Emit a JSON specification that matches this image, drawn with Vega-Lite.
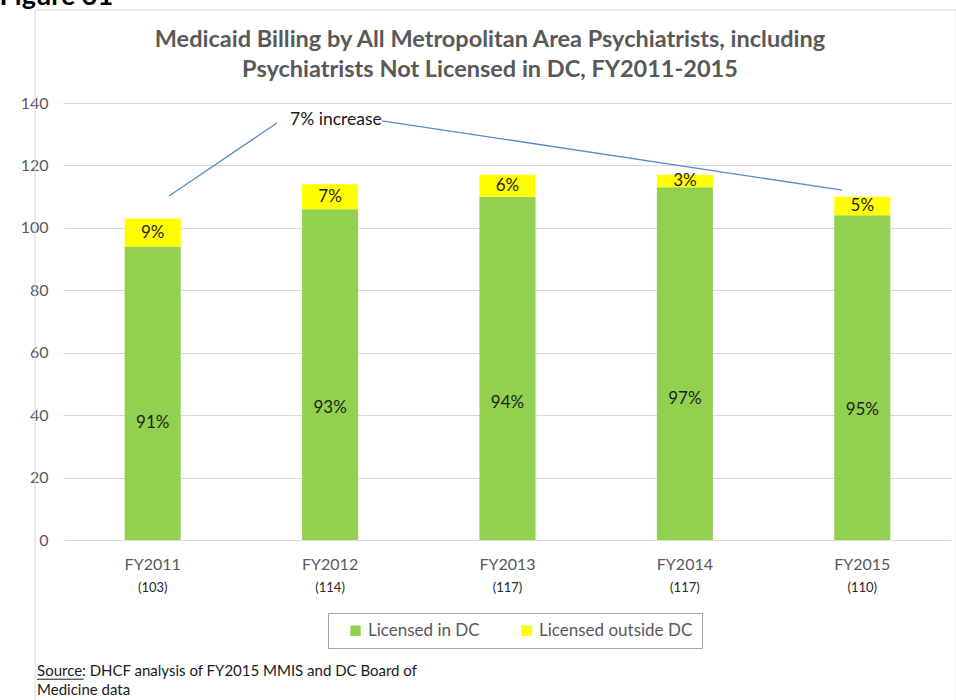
{
  "$schema": "https://vega.github.io/schema/vega-lite/v6.json",
  "width": 887,
  "height": 437,
  "autosize": "none",
  "padding": {"left": 64, "top": 103, "right": 5, "bottom": 160},
  "background": "white",
  "config": {"font": "Lato", "view": {"stroke": null}},
  "datasets": {
    "bars": [
      {"year": "FY2011", "category": "Licensed in DC", "ord": 1, "value": 94, "pct": "91%", "total": 103},
      {"year": "FY2011", "category": "Licensed outside DC", "ord": 2, "value": 9, "pct": "9%", "total": 103},
      {"year": "FY2012", "category": "Licensed in DC", "ord": 1, "value": 106, "pct": "93%", "total": 114},
      {"year": "FY2012", "category": "Licensed outside DC", "ord": 2, "value": 8, "pct": "7%", "total": 114},
      {"year": "FY2013", "category": "Licensed in DC", "ord": 1, "value": 110, "pct": "94%", "total": 117},
      {"year": "FY2013", "category": "Licensed outside DC", "ord": 2, "value": 7, "pct": "6%", "total": 117},
      {"year": "FY2014", "category": "Licensed in DC", "ord": 1, "value": 113, "pct": "97%", "total": 117},
      {"year": "FY2014", "category": "Licensed outside DC", "ord": 2, "value": 4, "pct": "3%", "total": 117},
      {"year": "FY2015", "category": "Licensed in DC", "ord": 1, "value": 104, "pct": "95%", "total": 110},
      {"year": "FY2015", "category": "Licensed outside DC", "ord": 2, "value": 6, "pct": "5%", "total": 110}
    ]
  },
  "resolve": {"scale": {"x": "independent"}},
  "layer": [
    {
      "data": {"name": "bars"},
      "mark": {"type": "bar"},
      "encoding": {
        "x": {"field": "year", "type": "nominal", "sort": null,
          "scale": {"paddingInner": 0.684, "paddingOuter": 0.342},
          "axis": {"title": null, "labelAngle": 0, "labelFontSize": 16, "labelColor": "#595959", "labelPadding": 16, "ticks": false, "domain": false}},
        "y": {"field": "value", "type": "quantitative", "stack": "zero",
          "scale": {"domain": [0, 140], "nice": false},
          "axis": {"title": null, "values": [0, 20, 40, 60, 80, 100, 120, 140], "labelFontSize": 16, "labelColor": "#595959", "labelPadding": 16, "ticks": false, "domain": false, "grid": true, "gridColor": "#d9d9d9", "gridWidth": 1}},
        "color": {"field": "category", "type": "nominal",
          "scale": {"domain": ["Licensed in DC", "Licensed outside DC"], "range": ["#92d050", "#ffff00"]},
          "legend": {"orient": "none", "legendX": 264, "legendY": 510, "direction": "horizontal", "title": null,
            "strokeColor": "#a6a6a6", "padding": 9, "symbolType": "square", "symbolSize": 110, "symbolStrokeWidth": 0,
            "labelFontSize": 17, "labelColor": "#595959", "columnPadding": 28, "labelOffset": 4, "symbolOffset": 10}},
        "order": {"field": "ord", "type": "quantitative"}
      }
    },
    {
      "data": {"values": [{}]},
      "mark": {"type": "rect", "fill": null, "stroke": "#d9d9d9", "strokeWidth": 1, "clip": false},
      "encoding": {
        "x": {"datum": -0.163, "type": "quantitative", "scale": {"domain": [0, 5], "nice": false, "zero": false}, "axis": null},
        "x2": {"datum": 5.03},
        "y": {"datum": 169.8, "type": "quantitative", "scale": {"domain": [0, 140], "nice": false}, "axis": {"title": null}},
        "y2": {"datum": -60}
      }
    },
    {
      "data": {"name": "bars"},
      "transform": [
        {"stack": "value", "groupby": ["year"], "sort": [{"field": "ord", "order": "ascending"}], "as": ["v0", "v1"]},
        {"calculate": "datum.ord == 1 ? datum.v1 * 0.4 : (datum.v0 + datum.v1) / 2", "as": "labelY"}
      ],
      "mark": {"type": "text", "fontSize": 17, "color": "#1f1f1f", "baseline": "middle"},
      "encoding": {
        "x": {"field": "year", "type": "nominal", "sort": null, "axis": null},
        "y": {"field": "labelY", "type": "quantitative", "scale": {"domain": [0, 140], "nice": false}, "axis": {"title": null}},
        "text": {"field": "pct"}
      }
    },
    {
      "data": {"name": "bars"},
      "transform": [
        {"filter": "datum.ord == 1"},
        {"calculate": "'(' + datum.total + ')'", "as": "nLabel"}
      ],
      "mark": {"type": "text", "fontSize": 13, "color": "#262626", "baseline": "middle", "clip": false},
      "encoding": {
        "x": {"field": "year", "type": "nominal", "sort": null, "axis": null},
        "y": {"datum": -15.5, "type": "quantitative", "scale": {"domain": [0, 140], "nice": false}, "axis": {"title": null}},
        "text": {"field": "nLabel"}
      }
    },
    {
      "data": {"values": [{}]},
      "mark": {"type": "rule", "color": "#5a8ac6", "strokeWidth": 1.3, "clip": false},
      "encoding": {
        "x": {"datum": 0.592, "type": "quantitative", "scale": {"domain": [0, 5], "nice": false, "zero": false}, "axis": null},
        "x2": {"datum": 1.2},
        "y": {"datum": 110.2, "type": "quantitative", "scale": {"domain": [0, 140], "nice": false}, "axis": {"title": null}},
        "y2": {"datum": 133.6}
      }
    },
    {
      "data": {"values": [{}]},
      "mark": {"type": "rule", "color": "#5a8ac6", "strokeWidth": 1.3, "clip": false},
      "encoding": {
        "x": {"datum": 1.793, "type": "quantitative", "scale": {"domain": [0, 5], "nice": false, "zero": false}, "axis": null},
        "x2": {"datum": 4.386},
        "y": {"datum": 134.3, "type": "quantitative", "scale": {"domain": [0, 140], "nice": false}, "axis": {"title": null}},
        "y2": {"datum": 112.1}
      }
    },
    {
      "data": {"values": [{}]},
      "mark": {"type": "text", "text": "7% increase", "fontSize": 17.5, "color": "#1a1a1a", "baseline": "middle", "align": "center", "clip": false},
      "encoding": {
        "x": {"datum": 1.533, "type": "quantitative", "scale": {"domain": [0, 5], "nice": false, "zero": false}, "axis": null},
        "y": {"datum": 134.6, "type": "quantitative", "scale": {"domain": [0, 140], "nice": false}, "axis": {"title": null}}
      }
    },
    {
      "data": {"values": [{}]},
      "mark": {"type": "text", "text": "Medicaid Billing by All Metropolitan Area Psychiatrists, including", "fontSize": 23.5, "fontWeight": "bold", "color": "#595959", "baseline": "middle", "align": "center", "clip": false},
      "encoding": {
        "x": {"datum": 2.401, "type": "quantitative", "scale": {"domain": [0, 5], "nice": false, "zero": false}, "axis": null},
        "y": {"datum": 160.2, "type": "quantitative", "scale": {"domain": [0, 140], "nice": false}, "axis": {"title": null}}
      }
    },
    {
      "data": {"values": [{}]},
      "mark": {"type": "text", "text": "Psychiatrists Not Licensed in DC, FY2011-2015", "fontSize": 23.5, "fontWeight": "bold", "color": "#595959", "baseline": "middle", "align": "center", "clip": false},
      "encoding": {
        "x": {"datum": 2.401, "type": "quantitative", "scale": {"domain": [0, 5], "nice": false, "zero": false}, "axis": null},
        "y": {"datum": 150.6, "type": "quantitative", "scale": {"domain": [0, 140], "nice": false}, "axis": {"title": null}}
      }
    },
    {
      "data": {"values": [{}]},
      "mark": {"type": "text", "text": "Figure 31", "fontSize": 27, "fontWeight": "bold", "color": "#000000", "baseline": "alphabetic", "align": "left", "clip": false},
      "encoding": {
        "x": {"datum": -0.363, "type": "quantitative", "scale": {"domain": [0, 5], "nice": false, "zero": false}, "axis": null},
        "y": {"datum": 171.4, "type": "quantitative", "scale": {"domain": [0, 140], "nice": false}, "axis": {"title": null}}
      }
    },
    {
      "data": {"values": [{}]},
      "mark": {"type": "text", "text": ["Source: DHCF analysis of FY2015 MMIS and DC Board of", "Medicine data"], "lineHeight": 19, "fontSize": 15, "color": "#1a1a1a", "baseline": "middle", "align": "left", "clip": false},
      "encoding": {
        "x": {"datum": -0.152, "type": "quantitative", "scale": {"domain": [0, 5], "nice": false, "zero": false}, "axis": null},
        "y": {"datum": -42, "type": "quantitative", "scale": {"domain": [0, 140], "nice": false}, "axis": {"title": null}}
      }
    },
    {
      "data": {"values": [{}]},
      "mark": {"type": "rule", "color": "#1a1a1a", "strokeWidth": 1, "clip": false},
      "encoding": {
        "x": {"datum": -0.152, "type": "quantitative", "scale": {"domain": [0, 5], "nice": false, "zero": false}, "axis": null},
        "x2": {"datum": 0.11},
        "y": {"datum": -44.6, "type": "quantitative", "scale": {"domain": [0, 140], "nice": false}, "axis": {"title": null}}
      }
    }
  ]
}
